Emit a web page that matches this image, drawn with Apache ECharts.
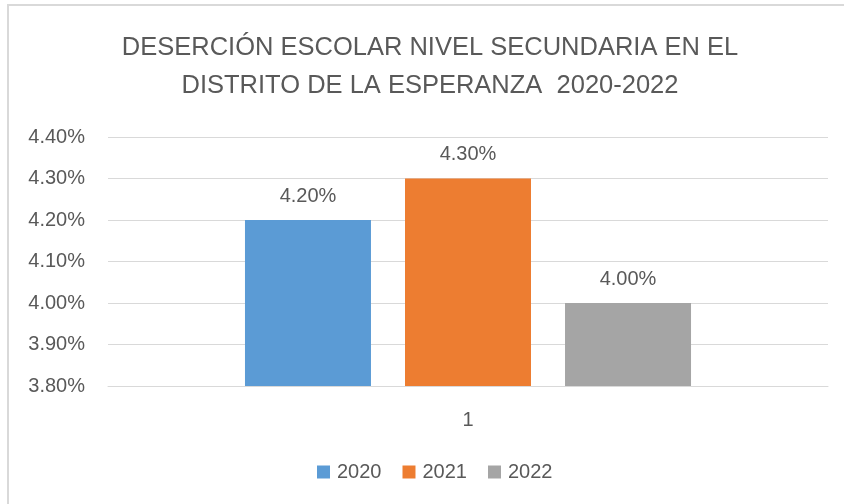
<!DOCTYPE html>
<html>
<head>
<meta charset="utf-8">
<script src="https://cdn.jsdelivr.net/npm/echarts@6/dist/echarts.min.js"></script>
<style>
html,body{margin:0;padding:0;background:#fff;}
#main{width:844px;height:504px;}
</style>
</head>
<body>
<div id="main"></div>
<script>
const titleText = 'DESERCIÓN ESCOLAR NIVEL SECUNDARIA EN EL\nDISTRITO DE LA ESPERANZA  2020-2022';
const categories = ['1'];
const seriesNames = ['2020', '2021', '2022'];
const values2020 = [4.20];
const values2021 = [4.30];
const values2022 = [4.00];
const yTicks = [3.8, 3.9, 4.0, 4.1, 4.2, 4.3, 4.4];

const colors = ['#5B9BD5', '#ED7D31', '#A5A5A5'];
const textColor = '#595959';
const font = 'Liberation Sans';

const chart = echarts.init(document.getElementById('main'), null, {renderer: 'canvas'});

const allValues = [values2020, values2021, values2022];
const series = seriesNames.map((name, i) => ({
  name: name,
  type: 'bar',
  data: allValues[i],
  barWidth: 126,
  barGap: '27%',
  itemStyle: {color: colors[i]},
  label: {
    show: true,
    position: 'top',
    distance: 14,
    color: textColor,
    fontFamily: font,
    fontSize: 20,
    formatter: p => p.value.toFixed(2) + '%'
  }
}));

chart.setOption({
  backgroundColor: '#ffffff',
  animation: false,
  graphic: [{
    type: 'rect',
    shape: {x: 8, y: 5, width: 900, height: 600},
    style: {fill: 'none', stroke: '#d9d9d9', lineWidth: 2},
    silent: true,
    z: -10
  }],
  title: {
    text: titleText,
    left: 425,
    textAlign: 'center',
    top: 24,
    textStyle: {
      fontFamily: font,
      fontSize: 25.5,
      fontWeight: 'normal',
      color: textColor,
      lineHeight: 38
    }
  },
  legend: {
    data: seriesNames,
    left: 312,
    top: 457,
    itemWidth: 13,
    itemHeight: 13,
    itemGap: 21,
    icon: 'rect',
    textStyle: {fontFamily: font, fontSize: 20, color: textColor, padding: [0, 0, 0, 2]}
  },
  grid: {left: 108, right: 16, top: 137, bottom: 118, containLabel: false},
  xAxis: {
    type: 'category',
    data: categories,
    axisLine: {show: true, lineStyle: {color: '#d9d9d9', width: 1}},
    axisTick: {show: false},
    axisLabel: {color: textColor, fontFamily: font, fontSize: 20, margin: 24}
  },
  yAxis: {
    type: 'value',
    min: yTicks[0],
    max: yTicks[yTicks.length - 1],
    interval: 0.1,
    axisLine: {show: false},
    axisTick: {show: false},
    splitLine: {lineStyle: {color: '#d9d9d9', width: 1}},
    axisLabel: {
      color: textColor, fontFamily: font, fontSize: 20, margin: 23,
      formatter: v => v.toFixed(2) + '%'
    }
  },
  series: series
});
</script>
</body>
</html>
